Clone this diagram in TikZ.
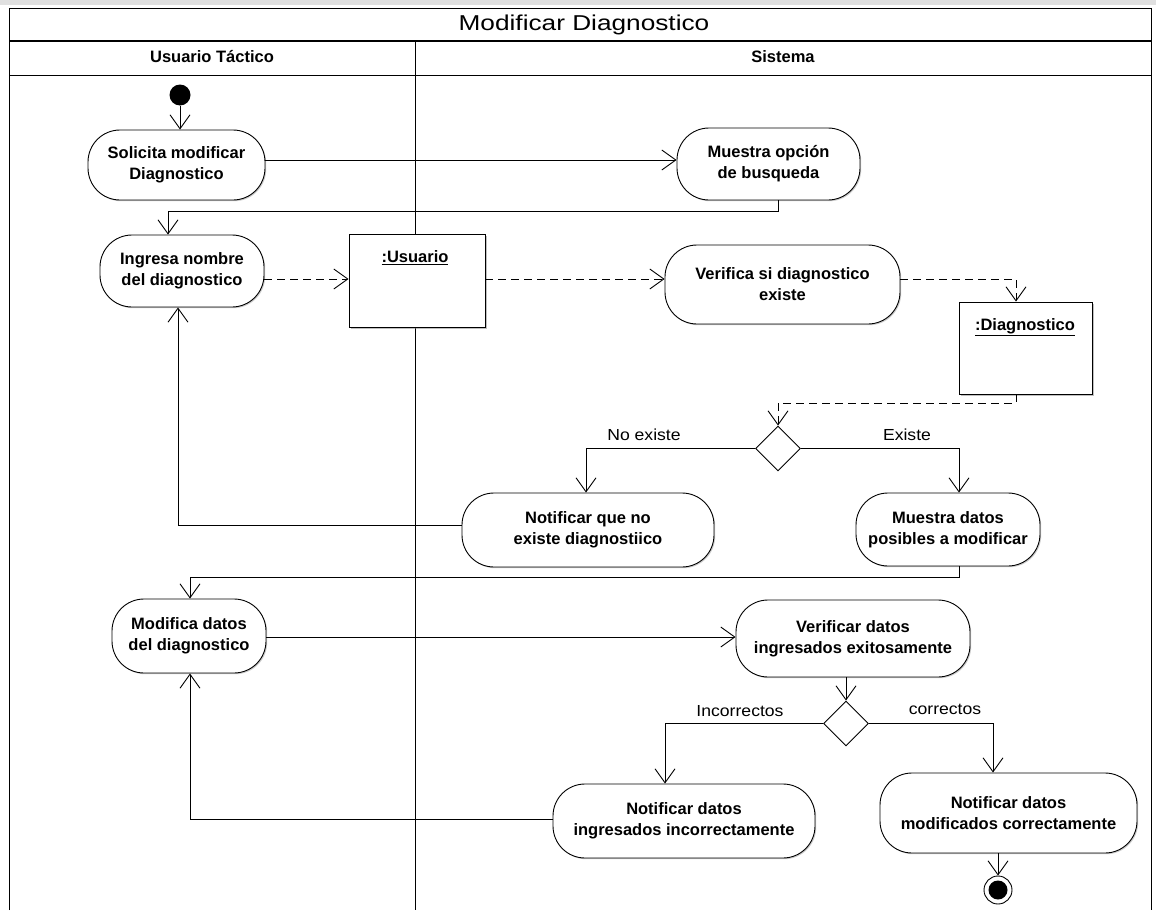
\documentclass[tikz,border=0pt]{standalone}
\usepackage{fontspec}
\setmainfont{Liberation Sans}
\newfontfamily\titlefont[FakeStretch=1.22]{Liberation Sans}
\newfontfamily\lblfont[FakeStretch=1.1]{Liberation Sans}
\usetikzlibrary{arrows.meta,shapes.geometric,shadows}
\begin{document}
\begin{tikzpicture}[x=1pt,y=-1pt,
  act/.style={draw,line width=0.9pt,rounded corners=32pt,fill=white,align=center,
    font=\fontsize{16.5}{21}\selectfont\bfseries,inner sep=0pt,
    drop shadow={shadow xshift=1.2pt,shadow yshift=-1.2pt,fill=black!40}},
  objbox/.style={draw,line width=0.9pt,fill=white,inner sep=0pt,
    drop shadow={shadow xshift=1.5pt,shadow yshift=-1.5pt,fill=black!50}},
  objtxt/.style={font=\fontsize{16.5}{21}\selectfont\bfseries},
  dec/.style={draw,diamond,line width=0.9pt,fill=white,minimum width=45pt,minimum height=45pt,inner sep=0pt},
  arr/.style={line width=0.9pt,-{Straight Barb[length=14pt,width=20pt,line width=0.9pt]}},
  dsh/.style={arr,dash pattern=on 8pt off 5pt},
  elbl/.style={font=\lblfont\fontsize{16}{19}\selectfont},
  lane/.style={font=\fontsize{16.5}{20}\selectfont\bfseries}
]
\useasboundingbox (0,0) rectangle (1156,910);
\fill[white] (0,0) rectangle (1156,910);
\fill[black!12] (0,0) rectangle (1156,5);
% frame
\draw[line width=1pt] (9,910) -- (9,8) -- (1151,8) -- (1151,910);
\draw[line width=1.6pt] (9,41) -- (1151,41);
\draw[line width=1pt] (9,75) -- (1151,75);
\draw[line width=1pt] (415,41) -- (415,910);
\node[font=\titlefont\fontsize{21.5}{24}\selectfont] (title) at (584,25) {Modificar Diagnostico};
\node[lane] (lane1) at (212,57) {Usuario Táctico};
\node[lane] (lane2) at (783,57) {Sistema};

% nodes
\node[circle,fill=black,minimum size=21pt,inner sep=0pt] (init) at (180,95) {};
\node[act,minimum width=177pt,minimum height=70pt] (sol) at (176.5,165) {Solicita modificar\\Diagnostico};
\node[act,minimum width=183pt,minimum height=72pt] (mb) at (768.5,164) {Muestra opción\\de busqueda};
\node[act,minimum width=164pt,minimum height=72pt] (ing) at (182,271) {Ingresa nombre\\del diagnostico};
\node[objbox,minimum width=136pt,minimum height=93pt] (usr) at (417,280.5) {};
\node[objtxt] (usrt) at (415,258) {\underline{:Usuario}};
\node[act,minimum width=235pt,minimum height=79pt] (ver) at (782.5,284.5) {Verifica si diagnostico\\existe};
\node[objbox,minimum width=133pt,minimum height=92pt] (dia) at (1025.5,348) {};
\node[objtxt] (diat) at (1025,327) {\underline{:Diagnostico}};
\node[dec] (d1) at (778,448.5) {};
\node[act,minimum width=252pt,minimum height=74pt] (nex) at (588,530) {Notificar que no\\existe diagnostiico};
\node[act,minimum width=184pt,minimum height=73pt] (mdp) at (948,529.5) {Muestra datos\\posibles a modificar};
\node[act,minimum width=154pt,minimum height=74pt] (mod) at (189,636) {Modifica datos\\del diagnostico};
\node[act,minimum width=234pt,minimum height=77pt] (vde) at (853,638.5) {Verificar datos\\ingresados exitosamente};
\node[dec] (d2) at (846,723.5) {};
\node[act,minimum width=262pt,minimum height=74pt] (ninc) at (684,821) {Notificar datos\\ingresados incorrectamente};
\node[act,minimum width=257pt,minimum height=80pt] (ncor) at (1008.5,813) {Notificar datos\\modificados correctamente};
\node[circle,draw,line width=0.9pt,fill=white,minimum size=28pt,inner sep=0pt] (fin) at (998,890) {};
\fill (fin.center) circle (9.5pt);

% connectors
\draw[arr] (init) -- (sol.north -| init);
\draw[arr] (sol.east |- 0,160) -- (mb.west |- 0,160);
\draw[arr] (mb.south -| 778,0) -- (778,211) -| (ing.north -| 168,0);
\draw[dsh] (ing.east |- 0,279) -- (usr.west |- 0,279);
\draw[dsh] (usr.east |- 0,279) -- (ver.west |- 0,279);
\draw[dsh] (ver.east |- 0,279) -| (dia.north -| 1016,0);
\draw[dsh] (dia.south -| 1016,0) -- (1016,403) -| (d1.north);
\draw[arr] (d1.west) -| (nex.north -| 586,0);
\node[elbl] (lno) at (644,435) {No existe};
\draw[arr] (d1.east) -| (mdp.north -| 959,0);
\node[elbl] (lsi) at (907,435) {Existe};
\draw[arr] (nex.west |- 0,525) -| (ing.south -| 178,0);
\draw[arr] (mdp.south -| 959,0) -- (959,577) -| (mod.north -| 190,0);
\draw[arr] (mod.east |- 0,637) -- (vde.west |- 0,637);
\draw[arr] (vde.south -| d2) -- (d2.north);
\draw[arr] (d2.west) -| (ninc.north -| 665,0);
\node[elbl] (linc) at (740,711) {Incorrectos};
\draw[arr] (d2.east) -| (ncor.north -| 993,0);
\node[elbl] (lcor) at (945,709) {correctos};
\draw[arr] (ninc.west |- 0,819) -| (mod.south -| 190,0);
\draw[arr] (ncor.south -| 998,0) -- (fin.north);
\end{tikzpicture}
\end{document}
